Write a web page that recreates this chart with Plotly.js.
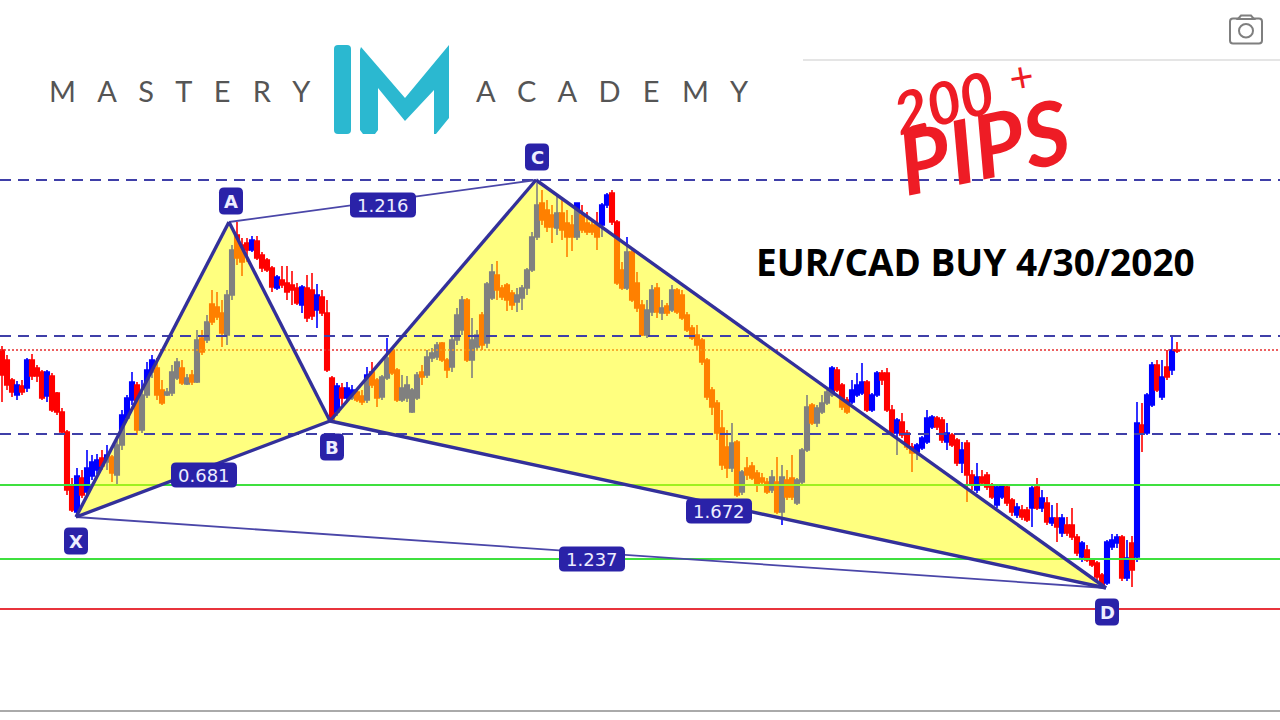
<!DOCTYPE html>
<html>
<head>
<meta charset="utf-8">
<script src="https://cdn.plot.ly/plotly-3.0.1.min.js"></script>
<style>html,body{margin:0;padding:0;background:#fff}#chart{width:1280px;height:720px}</style>
</head>
<body>
<div id="chart"></div>
<script>
// Prices are in pips above the stop line (the solid red level).
const open = [259,249,229,214,223,221,249,241,237,213,233,216,197,177,124,97,131,117,133,139,151,147,152,134,164,191,209,224,179,214,237,241,219,214,216,231,241,225,234,227,271,269,305,302,296,274,314,374,364,366,359,368,354,349,341,321,329,326,324,321,304,321,319,299,312,296,231,197,221,211,211,217,213,209,237,229,212,231,259,239,209,211,197,211,237,234,251,252,266,249,242,269,279,309,249,262,294,266,311,334,321,324,316,307,311,321,339,372,406,399,394,381,396,386,384,372,394,386,384,384,384,404,416,387,339,321,357,326,304,274,297,321,296,303,299,319,314,294,281,274,269,249,219,206,181,162,141,167,117,141,143,136,131,127,119,127,97,129,131,106,127,159,204,186,197,206,214,239,224,209,207,214,216,227,199,214,236,236,199,176,187,176,162,157,161,167,182,191,189,167,174,169,146,166,134,119,132,134,123,104,112,122,109,94,99,99,101,122,101,106,86,91,76,84,84,72,52,59,49,46,34,26,62,66,72,31,66,52,184,176,204,244,212,242,239,259];
const high = [263,254,231,228,229,251,255,244,239,239,236,217,201,179,131,141,139,159,154,155,159,164,154,171,199,214,237,227,229,247,254,251,229,221,244,251,249,235,239,279,279,294,319,317,309,319,364,387,371,371,373,373,357,351,343,334,343,343,338,326,324,334,336,325,319,309,233,226,226,227,224,221,219,242,247,231,234,271,261,241,234,233,221,237,244,259,261,267,267,251,274,301,313,311,291,279,297,327,345,348,324,326,319,321,324,341,377,426,419,409,404,414,412,399,394,406,404,397,389,397,406,416,419,389,347,372,361,337,309,309,324,326,309,306,324,321,319,297,284,284,271,251,222,209,199,179,186,169,139,152,147,139,136,131,139,152,144,139,154,131,161,214,206,204,214,219,243,242,226,212,229,236,246,229,216,238,239,241,204,191,196,179,166,166,173,199,194,193,192,186,176,171,167,169,139,146,139,137,126,124,125,124,111,106,104,102,123,131,119,112,104,106,95,92,101,75,68,64,51,48,36,69,75,75,74,69,73,207,206,216,247,249,249,259,274,267];
const low = [207,219,212,209,214,217,229,227,209,207,197,194,174,114,97,92,111,114,129,135,139,139,127,125,159,189,204,174,176,211,231,209,204,213,213,229,224,224,224,226,254,266,284,289,262,264,309,344,333,347,357,349,337,337,317,319,321,309,304,304,296,287,289,281,293,237,187,193,204,209,209,207,204,206,221,202,209,229,234,207,207,207,196,209,224,231,247,249,247,231,237,264,274,247,231,259,259,261,309,309,309,298,299,297,299,314,337,369,384,377,366,374,369,352,358,369,376,374,374,359,372,401,384,324,319,319,307,297,273,271,293,291,289,293,297,295,289,277,269,259,244,209,194,169,139,131,137,112,114,129,129,117,123,115,116,95,84,109,109,104,125,157,184,182,195,204,212,217,199,195,205,212,214,197,197,212,224,197,174,154,171,159,137,149,159,165,180,179,166,159,162,143,136,107,119,116,123,119,110,101,110,103,93,91,89,87,82,99,97,84,83,67,72,73,69,53,47,47,42,29,21,24,59,61,28,28,22,47,157,174,202,217,209,229,234,256];
const close = [234,224,217,224,217,249,233,233,211,237,199,197,177,119,99,133,114,141,147,149,143,154,136,164,194,211,227,179,214,239,249,214,206,217,237,247,226,231,227,269,257,287,287,292,276,314,359,351,347,359,369,351,341,339,322,332,324,317,319,306,322,291,293,314,296,239,189,223,211,221,219,209,207,234,224,211,232,251,236,209,221,224,219,234,232,252,256,264,249,239,269,294,309,249,269,274,264,325,337,319,312,309,304,314,321,339,372,404,389,382,382,396,379,372,372,406,379,377,377,372,404,414,387,326,321,357,309,301,274,299,319,297,301,296,319,297,291,279,271,264,247,212,202,176,144,141,166,114,137,134,131,125,127,117,132,97,132,112,112,129,159,202,186,201,206,217,241,219,202,197,219,224,227,199,214,236,229,199,176,189,174,162,156,164,171,191,192,182,169,176,164,146,159,134,124,132,126,122,112,122,123,106,97,102,92,89,121,101,111,87,91,82,91,76,72,56,66,49,44,32,24,67,69,72,31,51,39,186,176,214,244,219,232,232,259,258];

const levelsDashed = [429,273,175];
const levelDotted = [259];
const levelsGreen = [124,50];
const levelStop = [0];

const patternBars = {X:14.8, A:45.4, B:65.6, C:106.8, D:220.8};
const patternPips = {X:92, A:387, B:188, C:429, D:21};

const ratioLabels = ['1.216','0.681','1.672','1.237'];
const pointLabels = ['X','A','B','C','D'];

// Axis mapping: one bar = 5 px, one pip = 1 px
const PXB = 5;
const barAt = px => (px - 2) / PXB;
const pipAt = py => 609 - py;
const xRange = [barAt(0), barAt(1280)];
const yRange = [pipAt(720), pipAt(0)];

const bars = open.map((_, i) => i);

const levelTrace = (v, color, width, dash) => ({
  type:'scatter', mode:'lines', x:xRange, y:[v,v], hoverinfo:'skip', showlegend:false,
  line:{color, width, dash}
});
const seg = (a, b, width, color) => ({
  type:'scatter', mode:'lines', x:[patternBars[a],patternBars[b]], y:[patternPips[a],patternPips[b]],
  hoverinfo:'skip', showlegend:false, line:{color, width}
});
const tri = (a, b, c) => ({
  type:'scatter', mode:'lines', fill:'toself', fillcolor:'rgba(255,255,0,0.5)',
  x:[a,b,c,a].map(k=>patternBars[k]), y:[a,b,c,a].map(k=>patternPips[k]),
  hoverinfo:'skip', showlegend:false, line:{width:0, color:'rgba(0,0,0,0)'}
});

const traces = [
  {type:'candlestick', x:bars, open, high, low, close, whiskerwidth:0, showlegend:false, hoverinfo:'skip',
   increasing:{line:{color:'#0000ff', width:1.6}, fillcolor:'#0000ff'},
   decreasing:{line:{color:'#ff0000', width:1.6}, fillcolor:'#ff0000'}},
  ...levelDotted.map(v => levelTrace(v, '#e62e2e', 1.5, '2px 2px')),
  ...levelsGreen.map(v => levelTrace(v, '#3fe03f', 2, 'solid')),
  ...levelStop.map(v => levelTrace(v, '#e8343c', 2, 'solid')),
  tri('X','A','B'),
  tri('B','C','D'),
  ...levelsDashed.map(v => levelTrace(v, '#3f3fa8', 2.2, '11px 7px')),
  seg('A','C',1.8,'#4a46a8'), seg('X','D',1.8,'#4a46a8'),
  seg('X','A',3.4,'#33309a'), seg('A','B',3.4,'#33309a'), seg('X','B',3.4,'#33309a'),
  seg('B','C',3.4,'#33309a'), seg('C','D',3.4,'#33309a'), seg('B','D',3.4,'#33309a')
];

// pixel helpers for decorations
const px = x => (x/1280).toFixed(5);
const py = y => (1 - y/720).toFixed(5);
const P = (x,y) => px(x)+','+py(y);
const poly = pts => 'M'+pts.map(p=>P(p[0],p[1])).join(' L')+' Z';
const rrect = (cx,cy,w,h,r) => {
  const l=cx-w/2, t=cy-h/2, R=cx+w/2, b=cy+h/2;
  return `M${P(l+r,t)} L${P(R-r,t)} Q${P(R,t)} ${P(R,t+r)} L${P(R,b-r)} Q${P(R,b)} ${P(R-r,b)} L${P(l+r,b)} Q${P(l,b)} ${P(l,b-r)} L${P(l,t+r)} Q${P(l,t)} ${P(l+r,t)} Z`;
};
const pshape = (path, fill, lineColor, width) => ({type:'path', xref:'paper', yref:'paper', path,
  fillcolor:fill, line:{color:lineColor||'rgba(0,0,0,0)', width:width||0}, layer:'above'});
const NAVY = '#2a22a8';
const boxes = [[383,205,66,25],[204,475,66,25],[719,511,66,25],[592,559,66,25]];
const tags = [[76,541],[231,201],[332,447],[537,157],[1107,612]];
const CYAN = '#2bb8d0';

const shapes = [
  // separators
  {type:'line', xref:'paper', yref:'paper', x0:px(803), x1:1, y0:py(60), y1:py(60), line:{color:'#dcdcdc', width:1.5}},
  {type:'line', xref:'paper', yref:'paper', x0:0, x1:1, y0:py(711), y1:py(711), line:{color:'#8e8e8e', width:1.5}},
  // logo
  pshape(rrect(342.5,89.5,17,89,4), CYAN),
  pshape(poly([[360,50],[361,47],[405,98],[449,45],[449,118],[436,134],[434,134],[434,90],[405,121],[378,88],[378,130],[375,134],[363,134],[360,130]]), CYAN),
  // camera
  pshape(rrect(1246,31,32,25,3), 'rgba(0,0,0,0)', '#7f7f7f', 2),
  pshape(poly([[1238,19],[1241,15.5],[1251,15.5],[1254,19]]), '#fff', '#7f7f7f', 2),
  {type:'circle', xref:'paper', yref:'paper', x0:px(1239), x1:px(1253), y0:py(37.5), y1:py(24),
   line:{color:'#7f7f7f', width:2}, fillcolor:'rgba(0,0,0,0)', layer:'above'},
  // tags
  ...boxes.map(b => pshape(rrect(b[0],b[1],b[2],b[3],5), NAVY)),
  ...tags.map(t => pshape(rrect(t[0],t[1],24,27,5), NAVY))
];

const ann = (x,y,text,size,color,family,extra) => Object.assign({
  xref:'paper', yref:'paper', x:x/1280, y:1-y/720, text, showarrow:false, xanchor:'center', yanchor:'middle',
  font:{size, color, family}
}, extra||{});

const annotations = [
  ann(180,90,'M   A   S   T   E   R   Y',29,'#555','Lato'),
  ann(612,90,'A   C   A   D   E   M   Y',29,'#555','Lato'),
  ann(975,261,'<b>EUR/CAD BUY 4/30/2020</b>',37,'#000','Open Sans'),
  ann(943,102,'<i><b>200</b></i>',58,'#ee1c25','Lato',{textangle:-14}),
  ann(1021,76,'+',42,'#ee1c25','Lato',{textangle:-10}),
  ann(983,145,'<i><b>PIPS</b></i>',88,'#ee1c25','Lato',{textangle:-12}),
  ...boxes.map((b,i) => ann(b[0],b[1],ratioLabels[i],18,'#eeeeff','DejaVu Sans')),
  ...tags.map((t,i) => ann(t[0],t[1],'<b>'+pointLabels[i]+'</b>',18,'#eeeeff','DejaVu Sans'))
];

const layout = {
  width:1280, height:720, margin:{l:0,r:0,t:0,b:0},
  paper_bgcolor:'#fff', plot_bgcolor:'#fff', showlegend:false, boxgap:0.1, boxgroupgap:0, dragmode:false,
  xaxis:{range:xRange, visible:false, rangeslider:{visible:false}, fixedrange:true},
  yaxis:{range:yRange, visible:false, fixedrange:true},
  shapes, annotations
};
Plotly.newPlot('chart', traces, layout, {displayModeBar:false, responsive:false});
</script>
</body>
</html>
